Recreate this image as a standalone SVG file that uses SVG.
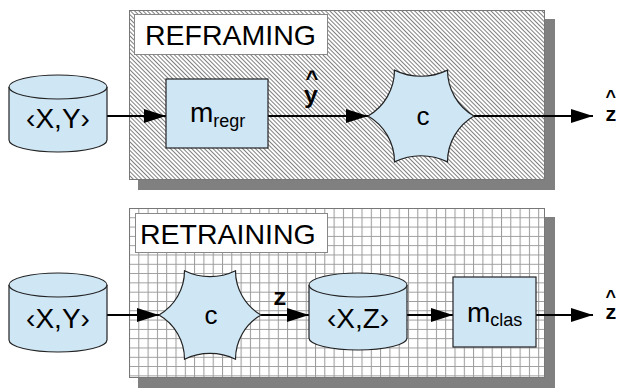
<svg xmlns="http://www.w3.org/2000/svg" width="618" height="388" viewBox="0 0 618 388">
  <style>
    .shadow { fill: #808080; }
    .panel-border { fill: none; stroke: #777; stroke-width: 1; }
    .title-box { fill: #fff; stroke: #888; stroke-width: 1; }
    .title { font-family: "Liberation Sans", Arial, sans-serif; font-size: 28.5px; fill: #000; }
    .shape { fill: #cfe6f5; stroke: #222; stroke-width: 1.2; }
    .lbl { font-family: "Liberation Sans", Arial, sans-serif; fill: #000; }
    .big { font-size: 28px; }
    .sub { font-size: 18px; }
    .mono { font-family: "Liberation Mono", "Courier New", monospace; font-weight: bold; fill: #000; }
    .edge { fill: none; stroke: #000; stroke-width: 2; marker-end: url(#arrow); }
  </style>
  <defs>
    <!-- diagonal hatching for the upper panel -->
    <pattern id="hatch" patternUnits="userSpaceOnUse" width="3" height="10" patternTransform="rotate(-45)">
      <rect width="3" height="10" fill="#fff"/>
      <line x1="0.5" y1="0" x2="0.5" y2="10" stroke="#606060" stroke-width="0.8"/>
    </pattern>
    <!-- square grid for the lower panel -->
    <pattern id="grid" patternUnits="userSpaceOnUse" x="129" y="208" width="9.3" height="9.3">
      <rect width="9.3" height="9.3" fill="#fff"/>
      <path d="M0.5,0 V9.3 M0,0.5 H9.3" stroke="#9a9a9a" stroke-width="1" fill="none"/>
    </pattern>
    <marker id="arrow" markerUnits="userSpaceOnUse" markerWidth="24" markerHeight="16" refX="22" refY="7" orient="auto">
      <path d="M0,0 L22,7 L0,14 Z" fill="#000"/>
    </marker>
  </defs>

  <!-- panels -->
  <g id="panel-reframing">
    <rect class="shadow" x="138" y="19" width="417" height="171"/>
    <rect x="129" y="10" width="416" height="170" fill="url(#hatch)"/>
    <rect class="panel-border" x="129.5" y="10.5" width="415" height="169"/>
    <rect class="title-box" x="134.5" y="14.5" width="193" height="40"/>
    <text class="title" x="145" y="45">REFRAMING</text>
  </g>
  <g id="panel-retraining">
    <rect class="shadow" x="138" y="217" width="417" height="171"/>
    <rect x="129" y="208" width="416" height="170" fill="url(#grid)"/>
    <rect class="panel-border" x="129.5" y="208.5" width="415" height="169"/>
    <rect class="title-box" x="135.5" y="213.5" width="192" height="39"/>
    <text class="title" x="140" y="244">RETRAINING</text>
  </g>

  <!-- connectors -->
  <g id="connectors">
    <line class="edge" x1="107" y1="116" x2="166" y2="116"/>
    <line class="edge" x1="268" y1="116" x2="368" y2="116"/>
    <line class="edge" x1="474" y1="116" x2="593" y2="116"/>
    <line class="edge" x1="107" y1="315" x2="159" y2="315"/>
    <line class="edge" x1="261" y1="315" x2="309" y2="315"/>
    <line class="edge" x1="407" y1="315" x2="453" y2="315"/>
    <line class="edge" x1="536" y1="315" x2="593" y2="315"/>
    <!-- connector labels -->
    <text class="mono" x="312" y="86" font-size="22" text-anchor="middle">^</text>
    <text class="mono" x="311" y="103" font-size="24" text-anchor="middle">y</text>
    <text class="mono" x="280" y="305" font-size="24" text-anchor="middle">z</text>
    <text class="mono" x="611" y="103" font-size="18" text-anchor="middle">^</text>
    <text class="mono" x="611" y="121" font-size="20" text-anchor="middle">z</text>
    <text class="mono" x="611" y="303" font-size="18" text-anchor="middle">^</text>
    <text class="mono" x="611" y="319" font-size="20" text-anchor="middle">z</text>
  </g>

  <!-- upper pipeline -->
  <g id="data-xy-top">
    <path class="shape" d="M9,87 A49,12 0 0 1 107,87 V140 A49,12 0 0 1 9,140 Z"/>
    <path class="shape" d="M9,87 A49,12 0 0 0 107,87" fill="none"/>
    <text class="lbl big" x="58" y="128" text-anchor="middle">‹X,Y›</text>
  </g>
  <g id="m-regr">
    <rect class="shape" x="166" y="79" width="102" height="69"/>
    <text class="lbl big" x="190" y="122">m<tspan class="sub" dy="5">regr</tspan></text>
  </g>
  <g id="c-top">
    <path class="shape" d="M474,116 A53,53 0 0 0 447.5,161.9 A60,60 0 0 0 394.5,161.9 A53,53 0 0 0 368,116 A53,53 0 0 0 394.5,70.1 A60,60 0 0 0 447.5,70.1 A53,53 0 0 0 474,116 Z"/>
    <text class="lbl" x="423" y="125" font-size="26" text-anchor="middle">c</text>
  </g>

  <!-- lower pipeline -->
  <g id="data-xy-bottom">
    <path class="shape" d="M9,285 A49,12 0 0 1 107,285 V340 A49,12 0 0 1 9,340 Z"/>
    <path class="shape" d="M9,285 A49,12 0 0 0 107,285" fill="none"/>
    <text class="lbl big" x="58" y="328" text-anchor="middle">‹X,Y›</text>
  </g>
  <g id="c-bottom">
    <path class="shape" d="M261,315 A51,51 0 0 0 235.5,359.2 A58,58 0 0 0 184.5,359.2 A51,51 0 0 0 159,315 A51,51 0 0 0 184.5,270.8 A58,58 0 0 0 235.5,270.8 A51,51 0 0 0 261,315 Z"/>
    <text class="lbl" x="211" y="324" font-size="26" text-anchor="middle">c</text>
  </g>
  <g id="data-xz">
    <path class="shape" d="M309,285 A49,12 0 0 1 407,285 V338 A49,12 0 0 1 309,338 Z"/>
    <path class="shape" d="M309,285 A49,12 0 0 0 407,285" fill="none"/>
    <text class="lbl big" x="358" y="328" text-anchor="middle">‹X,Z›</text>
  </g>
  <g id="m-clas">
    <rect class="shape" x="453" y="277" width="83" height="70"/>
    <text class="lbl big" x="467" y="322">m<tspan class="sub" dy="4">clas</tspan></text>
  </g>
</svg>
